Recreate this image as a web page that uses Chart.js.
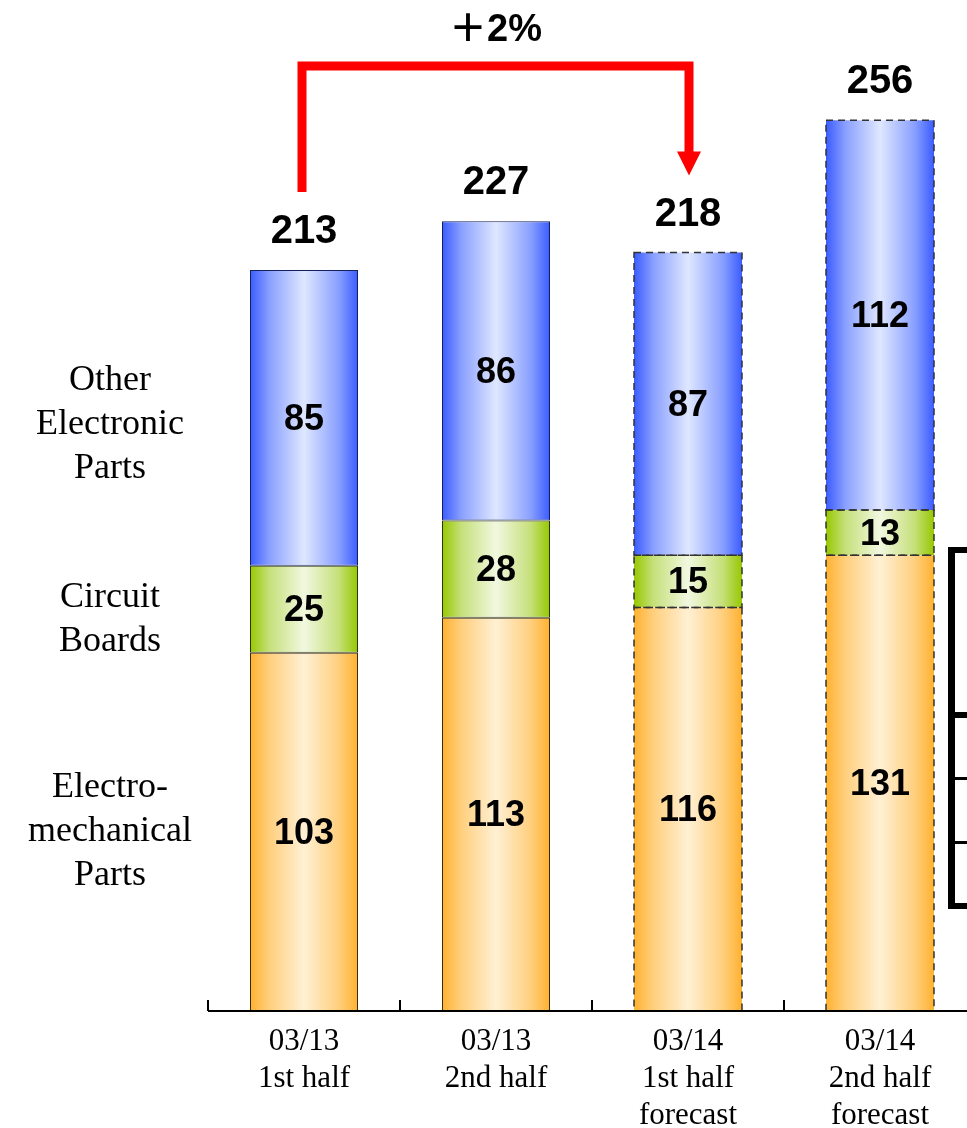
<!DOCTYPE html>
<html>
<head>
<meta charset="utf-8">
<script src="https://cdn.jsdelivr.net/npm/chart.js@4.4.1/dist/chart.umd.min.js"></script>
<style>
  html, body { margin: 0; padding: 0; background: #fff; overflow: hidden; }
  #wrap { width: 980px; height: 1128px; }
</style>
</head>
<body>
<div id="wrap"><canvas id="sales" width="980" height="1128"></canvas></div>
<script>
// Half-year sales by product group (billions of yen)
const periods = [
    ['03/13', '1st half'],
    ['03/13', '2nd half'],
    ['03/14', '1st half', 'forecast'],
    ['03/14', '2nd half', 'forecast']
];
const electroMech = [103, 113, 116, 131];
const circuitBoards = [25, 28, 15, 13];
const otherParts = [85, 86, 87, 112];
const totals = [213, 227, 218, 256];
const isForecast = [false, false, true, true];
const seriesNames = [
    ['Electro-', 'mechanical', 'Parts'],
    ['Circuit', 'Boards'],
    ['Other', 'Electronic', 'Parts']
];
const growthLabel = '＋2%';

const BAR_PCT = 0.5625;
const NAME_NUDGE = [0, 10, 7];

// horizontal "cylinder" shading for each segment
function shade(stops) {
    return function(ctx) {
        const chart = ctx.chart;
        const xs = chart.scales.x;
        if (!xs || !chart.chartArea) return stops[2];
        const cx = xs.getPixelForValue(ctx.dataIndex);
        const w = xs.width / periods.length * BAR_PCT;
        const g = chart.ctx.createLinearGradient(cx - w / 2, 0, cx + w / 2, 0);
        g.addColorStop(0, stops[0]);
        g.addColorStop(0.18, stops[1]);
        g.addColorStop(0.5, stops[2]);
        g.addColorStop(0.82, stops[1]);
        g.addColorStop(1, stops[0]);
        return g;
    };
}

const solidBorder = ctx => isForecast[ctx.dataIndex] ? 0 : 1;

// values inside each segment, totals above, dashed outline for forecasts
const barLabels = {
    id: 'barLabels',
    afterDatasetsDraw(chart) {
        const c = chart.ctx;
        c.save();
        // dashed outlines
        chart.data.datasets.forEach((ds, di) => {
            const meta = chart.getDatasetMeta(di);
            meta.data.forEach((el, i) => {
                if (!isForecast[i]) return;
                const p = el.getProps(['x', 'y', 'base', 'width'], true);
                c.setLineDash([7, 5]);
                c.lineWidth = 1.5;
                c.strokeStyle = '#333';
                c.strokeRect(p.x - p.width / 2, p.y, p.width, p.base - p.y);
            });
        });
        c.setLineDash([]);
        c.fillStyle = '#000';
        c.textAlign = 'center';
        c.textBaseline = 'middle';
        c.font = 'bold 36px "Liberation Sans", Arial, sans-serif';
        chart.data.datasets.forEach((ds, di) => {
            const meta = chart.getDatasetMeta(di);
            meta.data.forEach((el, i) => {
                const p = el.getProps(['x', 'y', 'base'], true);
                c.fillText(String(ds.data[i]), p.x, (p.y + p.base) / 2 + 2);
            });
        });
        // totals
        const ys = chart.scales.y;
        const xs = chart.scales.x;
        c.textBaseline = 'alphabetic';
        c.font = 'bold 40px "Liberation Sans", Arial, sans-serif';
        totals.forEach((t, i) => {
            c.fillText(String(t), xs.getPixelForValue(i), ys.getPixelForValue(t) - 27);
        });
        c.restore();
    }
};

// axis line, inner tick marks, series names, growth arrow, side bracket
const decorations = {
    id: 'decorations',
    afterDraw(chart) {
        const c = chart.ctx;
        const xs = chart.scales.x;
        const ys = chart.scales.y;
        const area = chart.chartArea;
        c.save();

        // baseline with upward ticks at category boundaries
        c.strokeStyle = '#000';
        c.lineWidth = 2;
        c.beginPath();
        c.moveTo(area.left, area.bottom);
        c.lineTo(chart.width, area.bottom);
        const step = xs.width / periods.length;
        for (let i = 0; i <= periods.length; i++) {
            const x = Math.round(area.left + i * step);
            c.moveTo(x, area.bottom);
            c.lineTo(x, area.bottom - 11);
        }
        c.stroke();

        // series names, next to the first bar's segments
        c.fillStyle = '#000';
        c.textAlign = 'center';
        c.textBaseline = 'middle';
        c.font = '36px "Liberation Serif", "Times New Roman", serif';
        seriesNames.forEach((lines, di) => {
            const el = chart.getDatasetMeta(di).data[0];
            const p = el.getProps(['y', 'base'], true);
            const mid = (p.y + p.base) / 2 + NAME_NUDGE[di];
            const lh = 44;
            lines.forEach((ln, k) => {
                c.fillText(ln, 110, mid + (k - (lines.length - 1) / 2) * lh);
            });
        });

        // growth arrow from first half 03/13 to first half 03/14 forecast
        const x0 = xs.getPixelForValue(0) - 2;
        const x2 = xs.getPixelForValue(2) + 1;
        const yTop = 66;
        const yStart = ys.getPixelForValue(totals[0]) - 78;
        const yTip = ys.getPixelForValue(totals[2]) - 77;
        c.strokeStyle = '#ff0000';
        c.fillStyle = '#ff0000';
        c.lineWidth = 9;
        c.lineJoin = 'miter';
        c.beginPath();
        c.moveTo(x0, yStart);
        c.lineTo(x0, yTop);
        c.lineTo(x2, yTop);
        c.lineTo(x2, yTip - 20);
        c.stroke();
        c.beginPath();
        c.moveTo(x2 - 12, yTip - 24);
        c.lineTo(x2 + 12, yTip - 24);
        c.lineTo(x2, yTip);
        c.closePath();
        c.fill();

        c.fillStyle = '#000';
        c.font = 'bold 38px "Liberation Sans", "Noto Sans CJK JP", sans-serif';
        c.fillText(growthLabel, (x0 + x2) / 2, 31);

        // bracket of the neighbouring table
        c.fillStyle = '#000';
        c.fillRect(948, 547, 7, 362);
        [[547, 6], [712, 6], [777, 3], [841, 3], [903, 6]].forEach(([y, h]) => {
            c.fillRect(948, y, 40, h);
        });

        c.restore();
    }
};

new Chart(document.getElementById('sales'), {
    type: 'bar',
    data: {
        labels: periods,
        datasets: [
            {
                label: 'Electro-mechanical Parts',
                data: electroMech,
                backgroundColor: shade(['#ffb12e', '#ffcf7e', '#fff0d4']),
                borderColor: '#3a2a10',
                borderWidth: solidBorder
            },
            {
                label: 'Circuit Boards',
                data: circuitBoards,
                backgroundColor: shade(['#96c800', '#c6e07a', '#f1f8e0']),
                borderColor: '#2a3308',
                borderWidth: solidBorder
            },
            {
                label: 'Other Electronic Parts',
                data: otherParts,
                backgroundColor: shade(['#3a5cff', '#8aa0ff', '#dfe7ff']),
                borderColor: '#14205a',
                borderWidth: solidBorder
            }
        ]
    },
    options: {
        responsive: false,
        animation: false,
        layout: {
            padding: { left: 208, right: 4, top: 2, bottom: 0 }
        },
        datasets: {
            bar: {
                barPercentage: BAR_PCT,
                categoryPercentage: 1,
                borderSkipped: false
            }
        },
        plugins: {
            legend: { display: false },
            tooltip: { enabled: false }
        },
        scales: {
            x: {
                stacked: true,
                grid: { display: false },
                border: { display: false },
                afterFit: function(scale) {
                    scale.height = 117;
                },
                ticks: {
                    color: '#000',
                    padding: 5,
                    maxRotation: 0,
                    autoSkip: false,
                    font: {
                        family: '"Liberation Serif", "Times New Roman", serif',
                        size: 31,
                        lineHeight: 1.18
                    }
                }
            },
            y: {
                stacked: true,
                display: false,
                min: 0,
                max: 290
            }
        }
    },
    plugins: [barLabels, decorations]
});
</script>
</body>
</html>
